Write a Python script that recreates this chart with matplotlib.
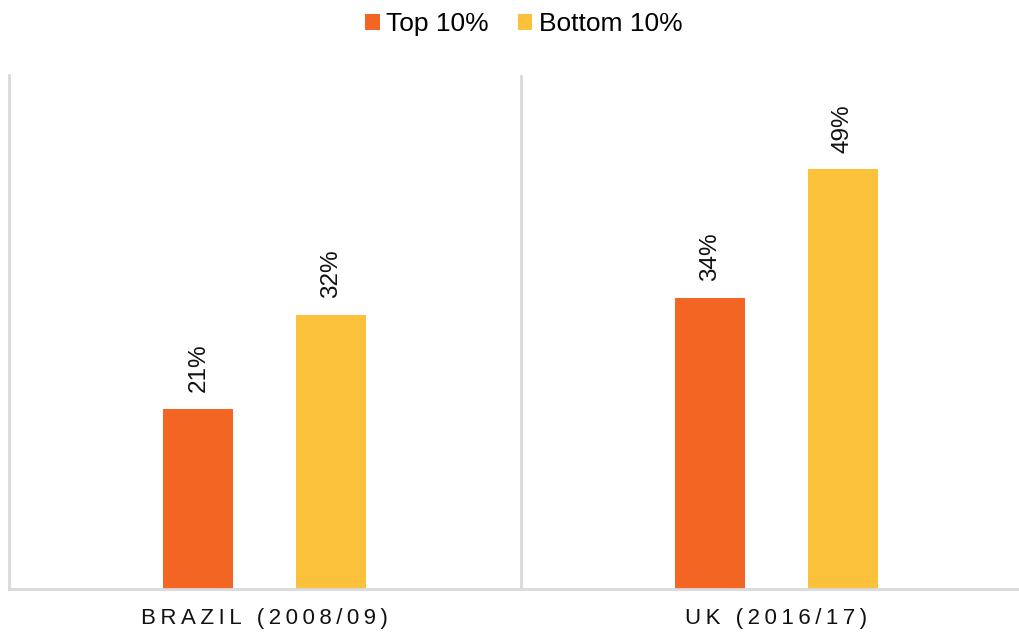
import matplotlib.pyplot as plt
import numpy as np

countries = ['BRAZIL (2008/09)', 'UK (2016/17)']
top10 = [21, 34]
bottom10 = [32, 49]
series = ['Top 10%', 'Bottom 10%']
colors = ['#F26522', '#FBC13B']

plt.rcParams['font.family'] = ['Liberation Sans', 'DejaVu Sans']

fig = plt.figure(figsize=(10.19, 6.33), dpi=100)
ax = fig.add_axes([9/1019, 44/633, 1023/1019, 514/633])

x = np.arange(len(countries))
w = 0.137
off = 0.130
b1 = ax.bar(x - off, top10, w, color=colors[0], label=series[0])
b2 = ax.bar(x + off, bottom10, w, color=colors[1], label=series[1])

for bars, vals in [(b1, top10), (b2, bottom10)]:
    for r, v in zip(bars, vals):
        ax.annotate(f'{v}%', (r.get_x() + r.get_width() / 2, r.get_height()),
                    xytext=(0, 12), textcoords='offset points', rotation=90,
                    ha='center', va='bottom', fontsize=17.5, color='#111111')

ax.set_xlim(-0.5, 1.5)
ax.set_ylim(0, 60)
ax.set_yticks([])
ax.set_xticks(x)
ax.set_xticklabels(['\u2009'.join(c) for c in countries], fontsize=16, color='#111111')
ax.tick_params(axis='x', length=0, pad=14)
ax.axvline(0.5, color='#D9D9D9', lw=2)
for s in ['top', 'right']:
    ax.spines[s].set_visible(False)
for s in ['left', 'bottom']:
    ax.spines[s].set_color('#D9D9D9')
    ax.spines[s].set_linewidth(2)

fig.legend(loc='upper center', bbox_to_anchor=(0.514, 1.018), ncol=2, frameon=False,
           fontsize=19, handlelength=0.55, handleheight=0.55, handletextpad=0.25,
           columnspacing=1.1)

fig.savefig('out.png', dpi=100)
